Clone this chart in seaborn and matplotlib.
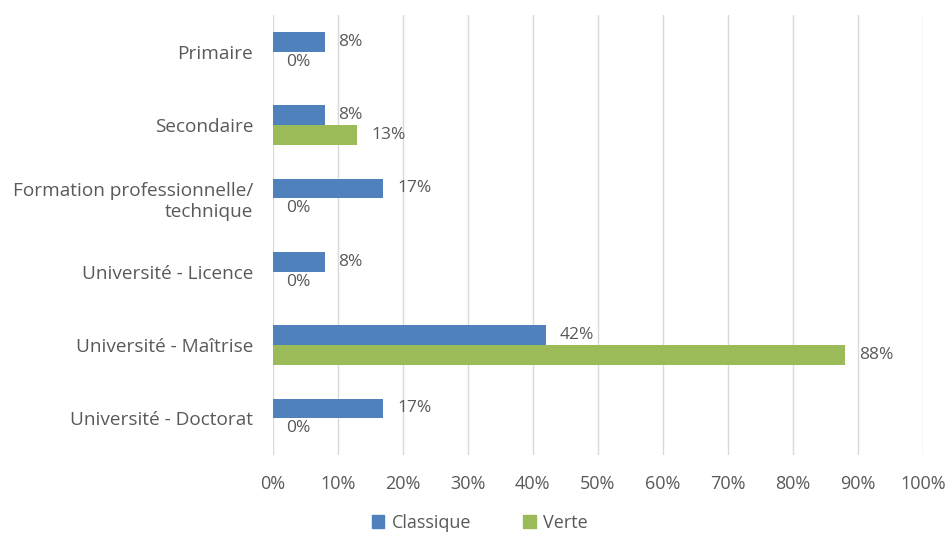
import matplotlib
matplotlib.use("Agg")
import matplotlib.pyplot as plt
import seaborn as sns
import pandas as pd
from matplotlib.ticker import FuncFormatter

# Niveaux d'études et pourcentages par type d'économie
categories = [
    "Primaire",
    "Secondaire",
    "Formation professionnelle/\ntechnique",
    "Université - Licence",
    "Université - Maîtrise",
    "Université - Doctorat",
]
classique = [8, 8, 17, 8, 42, 17]
verte = [0, 13, 0, 0, 88, 0]
series_names = ["Classique", "Verte"]
x_ticks = list(range(0, 101, 10))

df = pd.DataFrame({
    "niveau": categories * 2,
    "valeur": classique + verte,
    "serie": [series_names[0]] * len(categories) + [series_names[1]] * len(categories),
})

sns.set_theme(style="white")
plt.rcParams["font.family"] = ["Open Sans", "DejaVu Sans"]

text_color = "#595959"
palette = {"Classique": "#4F81BD", "Verte": "#9BBB59"}

fig = plt.figure(figsize=(9.5, 5.36), dpi=100)
ax = fig.add_axes([0.287, 0.151, 0.6845, 0.821])

sns.barplot(
    data=df, x="valeur", y="niveau", hue="serie", order=categories,
    hue_order=series_names, palette=palette, orient="h", width=0.54,
    saturation=1, linewidth=0, ax=ax, legend=False,
)

for container in ax.containers:
    ax.bar_label(container, fmt="%.0f%%", padding=10, fontsize=12.5,
                 color=text_color)

ax.set_xlim(0, 100)
ax.set_ylim(5.5, -0.5)
ax.set_xticks(x_ticks)
ax.xaxis.set_major_formatter(FuncFormatter(lambda v, _: f"{v:.0f}%"))
ax.grid(axis="x", color="#D9D9D9", linewidth=1)
ax.grid(axis="y", visible=False)
ax.set_axisbelow(True)
for s in ax.spines.values():
    s.set_visible(False)
ax.set_xlabel("")
ax.set_ylabel("")
ax.tick_params(axis="x", labelsize=13, colors=text_color, length=0, pad=14)
ax.tick_params(axis="y", labelsize=13.7, colors=text_color, length=0, pad=14)
for lbl in ax.get_yticklabels():
    lbl.set_horizontalalignment("right")
    lbl.set_multialignment("right")

handles = [plt.Rectangle((0, 0), 1, 1, color=palette[n]) for n in series_names]
fig.legend(handles, series_names, loc="center", bbox_to_anchor=(0.505, 0.024),
           ncol=2, frameon=False, fontsize=13, handlelength=0.7,
           handleheight=0.7, handletextpad=0.4, columnspacing=2.9,
           labelcolor=text_color)

fig.savefig("out.png", dpi=100)
